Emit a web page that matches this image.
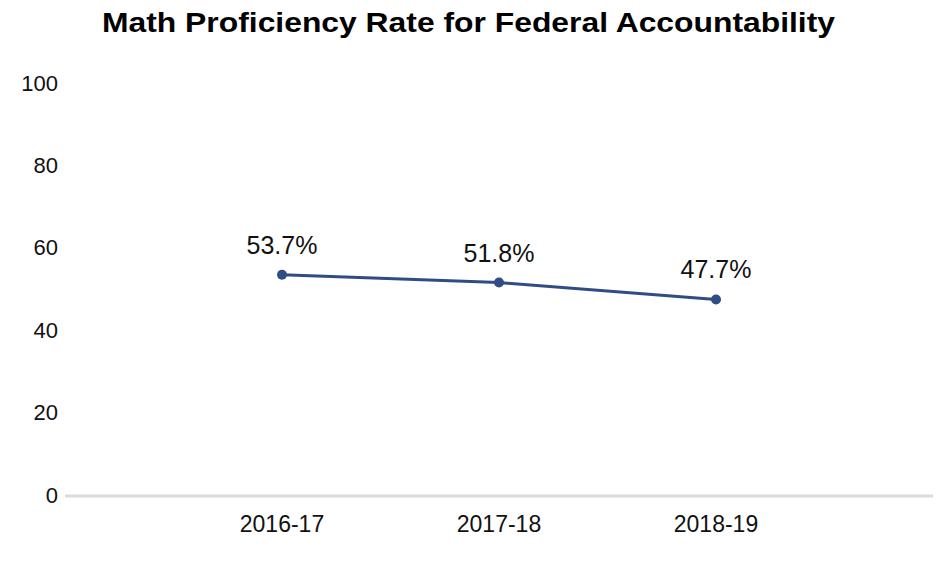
<!DOCTYPE html>
<html lang="en">
	<head>
		<meta charset="UTF-8" />
		<title>Math Proficiency Rate</title>
		<script src="https://d3js.org/d3.v7.min.js"></script>
		<style>
			body {
				margin: 0;
				background: #fff;
				font-family: "Liberation Sans", Arial, sans-serif;
			}
		</style>
	</head>
	<body>
		<svg id="chart"></svg>
		<script>
			// data
			const years = ["2016-17", "2017-18", "2018-19"];
			const rates = [53.7, 51.8, 47.7];
			const yTicks = [0, 20, 40, 60, 80, 100];

			const width = 940;
			const height = 573;
			const margin = { top: 84, right: 7, bottom: 77, left: 65 };

			const svg = d3
				.select("#chart")
				.attr("width", width)
				.attr("height", height);

			const x = d3
				.scalePoint()
				.domain(years)
				.range([margin.left, width - margin.right])
				.padding(1);

			const y = d3
				.scaleLinear()
				.domain([0, 100])
				.range([height - margin.bottom, margin.top]);

			// title
			svg
				.append("text")
				.attr("x", 468.5)
				.attr("y", 32)
				.attr("text-anchor", "middle")
				.attr("font-size", 28)
				.attr("font-weight", "bold")
				.attr("textLength", 733)
				.attr("lengthAdjust", "spacingAndGlyphs")
				.text("Math Proficiency Rate for Federal Accountability");

			// y axis labels
			svg
				.append("g")
				.selectAll("text")
				.data(yTicks)
				.join("text")
				.attr("x", 58)
				.attr("y", (d) => y(d))
				.attr("dy", "0.3em")
				.attr("text-anchor", "end")
				.attr("font-size", 22)
				.attr("fill", "#111")
				.text((d) => d);

			// baseline
			svg
				.append("line")
				.attr("x1", margin.left)
				.attr("x2", width - margin.right)
				.attr("y1", y(0))
				.attr("y2", y(0))
				.attr("stroke", "#dcdcdc")
				.attr("stroke-width", 3);

			// x axis labels
			svg
				.append("g")
				.selectAll("text")
				.data(years)
				.join("text")
				.attr("x", (d) => x(d))
				.attr("y", y(0) + 36)
				.attr("text-anchor", "middle")
				.attr("font-size", 23)
				.attr("fill", "#111")
				.text((d) => d);

			const pts = years.map((yr, i) => ({ yr, v: rates[i] }));

			const line = d3
				.line()
				.x((d) => x(d.yr))
				.y((d) => y(d.v));

			svg
				.append("path")
				.datum(pts)
				.attr("d", line)
				.attr("fill", "none")
				.attr("stroke", "#2f4d84")
				.attr("stroke-width", 3);

			svg
				.append("g")
				.selectAll("circle")
				.data(pts)
				.join("circle")
				.attr("cx", (d) => x(d.yr))
				.attr("cy", (d) => y(d.v))
				.attr("r", 5)
				.attr("fill", "#2f4d84");

			// value labels
			svg
				.append("g")
				.selectAll("text")
				.data(pts)
				.join("text")
				.attr("x", (d) => x(d.yr))
				.attr("y", (d) => y(d.v) - 21)
				.attr("text-anchor", "middle")
				.attr("font-size", 25)
				.attr("fill", "#111")
				.text((d) => d.v.toFixed(1) + "%");
		</script>
	</body>
</html>
